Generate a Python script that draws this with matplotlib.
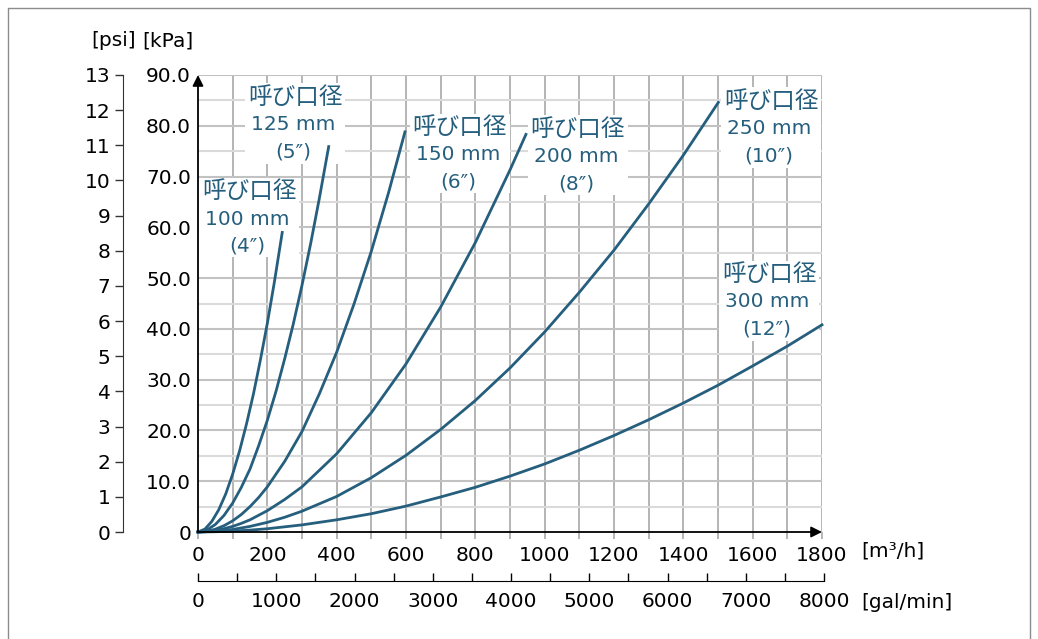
"""Pressure loss vs flow rate for nominal diameters 100-300 mm (Japanese labels)."""
import matplotlib
matplotlib.use("Agg")
import matplotlib.pyplot as plt
from matplotlib.lines import Line2D
from matplotlib.patches import Rectangle
from matplotlib.transforms import Bbox

W, H = 1038, 639
CURVE_COLOR = "#265f7e"
plt.rcParams["font.family"] = ["DejaVu Sans", "Noto Sans CJK JP"]

# flow [m3/h] and pressure loss [kPa]
q_100 = [0, 20, 40, 60, 80, 100, 120, 140, 160, 180, 200, 220, 243]
dp_100 = [0, 0.58, 2.1, 4.4, 7.5, 11.4, 16.0, 21.3, 27.2, 33.9, 41.1, 49.1, 59.0]

q_125 = [0, 25, 50, 75, 100, 125, 150, 175, 200, 225, 250, 275, 300, 325, 350, 377]
dp_125 = [0, 0.38, 1.48, 3.26, 5.7, 8.8, 12.4, 17.0, 22.0, 27.7, 34.1, 41.0, 48.6, 56.8, 65.7, 75.9]

q_150 = [0, 25, 50, 75, 100, 125, 150, 175, 200, 250, 300, 350, 400, 450, 500, 550, 597]
dp_150 = [0, 0.14, 0.55, 1.24, 2.2, 3.45, 5.0, 6.8, 8.9, 13.9, 19.8, 27.2, 35.4,
          44.9, 55.3, 66.9, 78.8]

q_200 = [0, 25, 50, 75, 100, 125, 150, 175, 200, 250, 300, 400, 500, 600, 700, 800, 900, 946]
dp_200 = [0, 0.08, 0.3, 0.65, 1.1, 1.7, 2.4, 3.3, 4.2, 6.4, 8.9, 15.4, 23.5, 33.1,
          44.3, 57.0, 71.3, 78.3]

q_250 = [0, 50, 100, 150, 200, 250, 300, 400, 500, 600, 700, 800, 900, 1000,
         1100, 1200, 1300, 1400, 1501]
dp_250 = [0, 0.14, 0.5, 1.1, 1.9, 2.9, 4.1, 7.0, 10.7, 15.1, 20.2, 25.9, 32.3, 39.4,
          47.2, 55.5, 64.6, 74.2, 84.6]

q_300 = [0, 50, 100, 150, 200, 300, 400, 500, 600, 700, 800, 900, 1000,
         1100, 1200, 1300, 1400, 1500, 1600, 1700, 1800]
dp_300 = [0, 0.05, 0.17, 0.37, 0.64, 1.4, 2.4, 3.6, 5.1, 6.9, 8.8, 11.0, 13.4,
          16.1, 19.0, 22.1, 25.4, 28.9, 32.7, 36.6, 40.8]

series = [(q_100, dp_100), (q_125, dp_125), (q_150, dp_150),
          (q_200, dp_200), (q_250, dp_250), (q_300, dp_300)]

label_head = "呼び口径"
label_size = ["100 mm", "125 mm", "150 mm", "200 mm", "250 mm", "300 mm"]
label_inch = ["(4″)", "(5″)", "(6″)", "(8″)", "(10″)", "(12″)"]
# centre of the middle label line, in pixels from top-left
label_centre = [(247, 219), (293, 125), (458, 155), (576, 157), (769, 129), (767, 302)]

kpa_ticks = list(range(0, 91, 10))
kpa_labels = ["0"] + [f"{v:.1f}" for v in kpa_ticks[1:]]
psi_ticks = list(range(0, 14))
flow_ticks = list(range(0, 1801, 200))
gal_ticks = list(range(0, 8001, 1000))


def fx(px):
    return px / W


def fy(py):
    return 1 - py / H


fig = plt.figure(figsize=(W / 100, H / 100), dpi=100)

# outer frame
fig.add_artist(Line2D([fx(8), fx(8), fx(1030), fx(1030)], [0, fy(8), fy(8), 0],
                      color="#8c8c8c", lw=1))

ax = fig.add_axes([fx(198), fy(532), (822 - 198) / W, (532 - 75) / H])
ax.set_xlim(0, 1800)
ax.set_ylim(0, 90)
for s in ax.spines.values():
    s.set_visible(False)

for v in range(100, 1801, 100):
    ax.axvline(v, color="#a0a0a0", lw=1.1, zorder=1)
for v in range(5, 91, 5):
    ax.axhline(v, color="#c2c2c2" if v % 10 == 0 else "#dadada", lw=1.5, zorder=1)

ax.set_xticks(flow_ticks)
ax.set_xticks(range(100, 1800, 200), minor=True)
ax.tick_params(axis="x", which="both", length=5, width=1.1, color="#a0a0a0",
               pad=5, labelsize=14.5)
ax.set_yticks(kpa_ticks)
ax.set_yticklabels(kpa_labels)
ax.tick_params(axis="y", length=0, pad=5, labelsize=14.5)

arrow = dict(arrowstyle="-|>", color="k", lw=1.3, mutation_scale=16, shrinkA=0, shrinkB=0)
ax.annotate("", xy=(1, 0), xytext=(0, 0), xycoords="axes fraction", arrowprops=arrow, zorder=5)
ax.annotate("", xy=(0, 1), xytext=(0, 0), xycoords="axes fraction", arrowprops=arrow, zorder=5)

for q, dp in series:
    ax.plot(q, dp, color=CURVE_COLOR, lw=2.0, solid_joinstyle="round", zorder=4, clip_on=False)

# curve labels, three lines each
label_texts = []
for (cx, cy), size, inch in zip(label_centre, label_size, label_inch):
    kw = dict(ha="center", va="center", color=CURVE_COLOR, zorder=3, transform=fig.transFigure)
    label_texts.append([
        ax.text(fx(cx + 2), fy(cy - 28), label_head, fontsize=17, family=["Noto Sans CJK JP"], **kw),
        ax.text(fx(cx), fy(cy), size, fontsize=14.5, **kw),
        ax.text(fx(cx), fy(cy + 27), inch, fontsize=14.5, **kw),
    ])

# psi scale on the far left
ax_psi = fig.add_axes([fx(123), fy(532), 0.0005, (532 - 75) / H])
ax_psi.set_ylim(0, 13)
ax_psi.set_yticks(psi_ticks)
ax_psi.set_xticks([])
ax_psi.patch.set_visible(False)
for name, s in ax_psi.spines.items():
    s.set_visible(name == "left")
ax_psi.spines["left"].set_color("#333333")
ax_psi.tick_params(axis="y", length=6, width=1, color="#333333", pad=3, labelsize=14.5)

# gal/min scale below
ax_gal = fig.add_axes([fx(198), fy(581), (824 - 198) / W, 0.0001])
ax_gal.set_xlim(0, 8000)
ax_gal.set_xticks(gal_ticks)
ax_gal.set_xticks(range(500, 8000, 1000), minor=True)
ax_gal.set_yticks([])
ax_gal.patch.set_visible(False)
for name, s in ax_gal.spines.items():
    s.set_visible(name == "bottom")
ax_gal.tick_params(axis="x", which="both", direction="in", length=6, width=1,
                   color="k", pad=8, labelsize=14.5)

fig.text(fx(114), fy(41), "[psi]", ha="center", va="center", fontsize=14.5)
fig.text(fx(168), fy(41), "[kPa]", ha="center", va="center", fontsize=14.5)
fig.text(fx(861), fy(551), "[m³/h]", ha="left", va="center", fontsize=14.5)
fig.text(fx(861), fy(602), "[gal/min]", ha="left", va="center", fontsize=14.5)

# white backing behind each label block, hides the grid but not the curves
fig.canvas.draw()
renderer = fig.canvas.get_renderer()
to_fig = fig.transFigure.inverted()
for texts in label_texts:
    bb = Bbox.union([t.get_window_extent(renderer) for t in texts])
    (x0, y0), (x1, y1) = to_fig.transform([[bb.x0 - 3, bb.y0 - 2], [bb.x1 + 3, bb.y1 + 2]])
    ax.add_artist(Rectangle((x0, y0), x1 - x0, y1 - y0, transform=fig.transFigure,
                            facecolor="white", edgecolor="none", zorder=2))

fig.savefig("out.png", dpi=100)
